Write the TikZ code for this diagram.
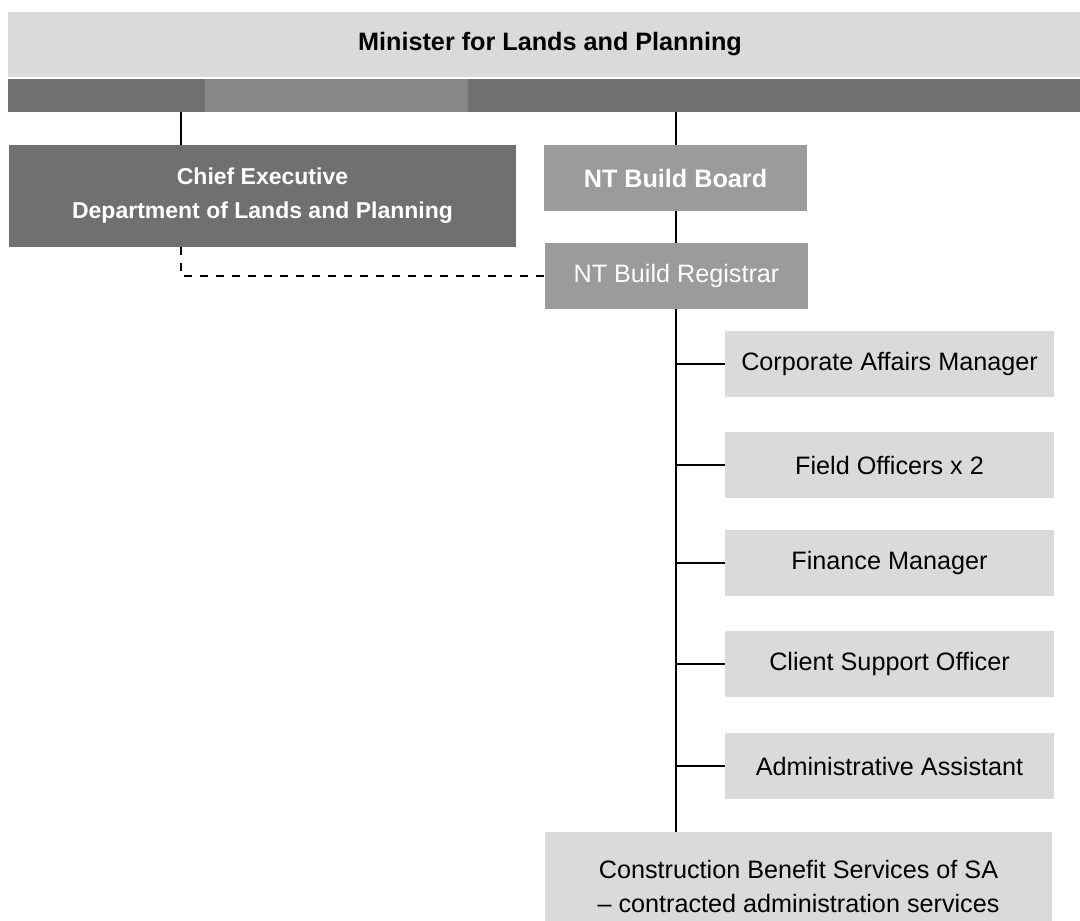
\documentclass[tikz,border=0pt]{standalone}
\usepackage{fontspec}
\setmainfont{Liberation Sans}
\usepackage{tikz}
\usetikzlibrary{arrows.meta}
\usetikzlibrary{backgrounds}
\definecolor{lightbox}{HTML}{D9DADB}
\definecolor{darkbox}{HTML}{6F7072}
\definecolor{midbox}{HTML}{9B9B9D}
\definecolor{bandlight}{HTML}{87888A}
\newcommand{\roleh}{33pt}
\newcommand{\rolefont}{\fontsize{12.6}{17}\selectfont}

\begin{document}
\begin{tikzpicture}[x=0.5pt,y=-0.5pt]
                \useasboundingbox (0,0) rectangle (1080,920);

                \begin{scope}[every node/.style={inner sep=0pt,outer sep=0pt,align=center,font=\rolefont}]
                    \node[fill=lightbox,minimum width=542pt,minimum height=32.5pt] (min) at (550,44.5) {\textbf{Minister for Lands and Planning}};
                    \node[fill=darkbox,minimum width=536pt,minimum height=16.5pt] (band) at (544,95.5) {};
                    \fill[bandlight] (205,79) rectangle (468,112);

                    \node[fill=darkbox,text=white,minimum width=253.5pt,minimum height=51pt,
                        font=\fontsize{11.5}{17}\selectfont\bfseries] (chief) at (262.5,196) {Chief Executive\\Department of Lands and Planning};
                    \node[fill=midbox,text=white,minimum width=131.5pt,minimum height=\roleh,font=\rolefont\bfseries] (board) at (675.5,178) {NT Build Board};
                    \node[fill=midbox,text=white,minimum width=131.5pt,minimum height=\roleh] (reg) at (676.5,276) {NT Build Registrar};
                \end{scope}

                \begin{scope}[every node/.style={fill=lightbox,inner sep=0pt,outer sep=0pt,align=center,
                        font=\rolefont,minimum width=164.5pt,minimum height=\roleh}]
                    \node (corp) at (889.5,364) {Corporate Affairs Manager};
                    \node (field) at (889.5,465) {Field Officers x 2};
                    \node (fin) at (889.5,563) {Finance Manager};
                    \node (client) at (889.5,664) {Client Support Officer};
                    \node (admin) at (889.5,766) {Administrative Assistant};
                    \node[minimum width=253.5pt,minimum height=54pt] (cbs) at (798.5,886) {Construction Benefit Services of SA\\\textendash{} contracted administration services};
                \end{scope}

                \coordinate (cex) at (181,112);

                \begin{scope}[every path/.style={draw=black,line width=1pt}]
                    \path (cex) -- (cex |- chief.north);
                    \path (board.north |- band.south) -- (board.north);
                    \path (board.south) -- (board.south |- reg.north);
                    \path (reg.south -| board.south) -- (board.south |- cbs.north);
                    \foreach \r in {corp,field,fin,client,admin}
                        \path (\r.west) -- (\r.west -| board.south);
                    \path [dash pattern=on 4pt off 4pt] (cex |- chief.south) |- (reg.west);
                \end{scope}
            \end{tikzpicture}
\end{document}
